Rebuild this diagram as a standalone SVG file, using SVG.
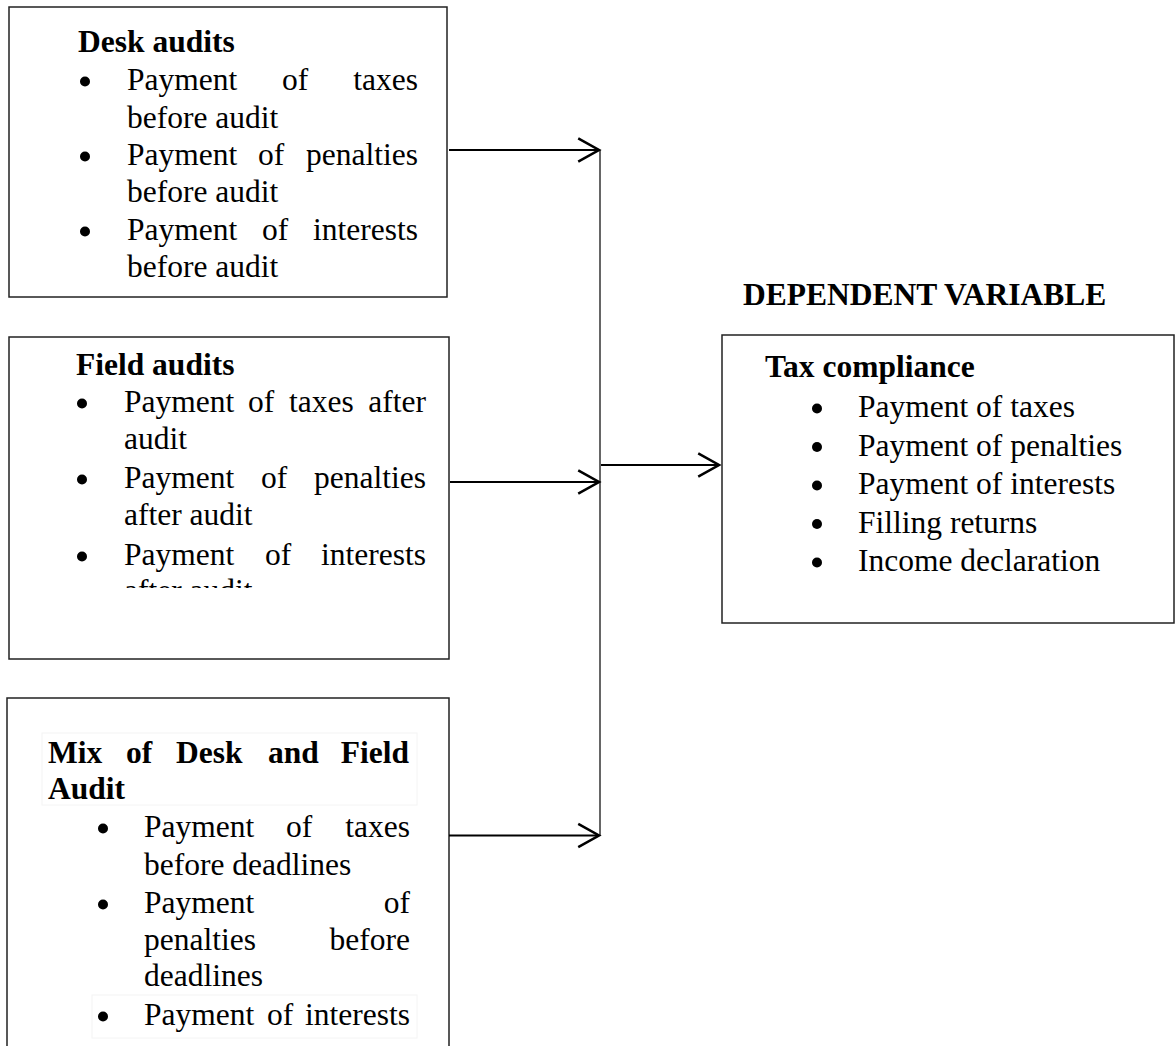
<svg xmlns="http://www.w3.org/2000/svg" width="1175" height="1046" viewBox="0 0 1175 1046">
<style>
.box{fill:#fff;stroke:#222;stroke-width:1.5}
.t{font-family:"Liberation Serif","Times New Roman",serif;font-size:31.5px;fill:#000}
.b{font-weight:bold}
.e{text-anchor:end}
.dot{fill:#000}
.conn{stroke:#000;stroke-width:2.2;fill:none}
.vline{stroke:#333;stroke-width:1.5;fill:none}
.faint{fill:none;stroke:#f4f4f4;stroke-width:1}
</style>
<defs>
<marker id="ah" markerUnits="userSpaceOnUse" markerWidth="30" markerHeight="30" viewBox="-22 -13 26 26" refX="0" refY="0" orient="auto">
<path d="M-18,-10 L0,0 L-18,10" fill="none" stroke="#000" stroke-width="2.2"/>
</marker>
<clipPath id="c2"><rect x="0" y="330" width="460" height="258"/></clipPath>
<clipPath id="c3"><rect x="0" y="690" width="460" height="348"/></clipPath>
</defs>
<rect width="1175" height="1046" fill="#fff"/>

<g id="desk-audits">
<rect class="box" x="9" y="7" width="438" height="290"/>
<text class="t b" x="78" y="52">Desk audits</text>
<circle class="dot" cx="85" cy="81.5" r="5"/>
<text class="t" x="127" y="90">Payment</text><text class="t" x="282" y="90">of</text><text class="t e" x="418" y="90">taxes</text>
<text class="t" x="127" y="127.5">before audit</text>
<circle class="dot" cx="85" cy="156.5" r="5"/>
<text class="t" x="127" y="165">Payment</text><text class="t" x="258" y="165">of</text><text class="t e" x="418" y="165">penalties</text>
<text class="t" x="127" y="202">before audit</text>
<circle class="dot" cx="85" cy="231.5" r="5"/>
<text class="t" x="127" y="240">Payment</text><text class="t" x="262" y="240">of</text><text class="t e" x="418" y="240">interests</text>
<text class="t" x="127" y="277">before audit</text>
</g>

<g id="field-audits">
<rect class="box" x="9" y="337" width="440" height="322"/>
<text class="t b" x="76" y="375">Field audits</text>
<circle class="dot" cx="82" cy="403.5" r="5"/>
<text class="t" x="124" y="412">Payment</text><text class="t" x="248" y="412">of</text><text class="t" x="289" y="412">taxes</text><text class="t e" x="426" y="412">after</text>
<text class="t" x="124" y="449">audit</text>
<circle class="dot" cx="82" cy="479.5" r="5"/>
<text class="t" x="124" y="488">Payment</text><text class="t" x="261" y="488">of</text><text class="t e" x="426" y="488">penalties</text>
<text class="t" x="124" y="525">after audit</text>
<circle class="dot" cx="82" cy="556.5" r="5"/>
<text class="t" x="124" y="565">Payment</text><text class="t" x="265" y="565">of</text><text class="t e" x="426" y="565">interests</text>
<text class="t" x="124" y="601" clip-path="url(#c2)">after audit</text>
</g>

<g id="mix-audit">
<path class="box" d="M7,1046 L7,698 L449,698 L449,1046"/>
<rect class="faint" x="42" y="733" width="375" height="72"/>
<rect class="faint" x="92" y="995" width="325" height="43"/>
<text class="t b" x="48" y="763">Mix</text><text class="t b" x="126" y="763">of</text><text class="t b" x="176" y="763">Desk</text><text class="t b" x="268" y="763">and</text><text class="t b e" x="409" y="763">Field</text>
<text class="t b" x="48" y="799">Audit</text>
<circle class="dot" cx="103" cy="828.5" r="5"/>
<text class="t" x="144" y="837">Payment</text><text class="t" x="286" y="837">of</text><text class="t e" x="410" y="837">taxes</text>
<text class="t" x="144" y="875">before deadlines</text>
<circle class="dot" cx="103" cy="904.5" r="5"/>
<text class="t" x="144" y="913">Payment</text><text class="t e" x="410" y="913">of</text>
<text class="t" x="144" y="950">penalties</text><text class="t e" x="410" y="950">before</text>
<text class="t" x="144" y="986">deadlines</text>
<circle class="dot" cx="103" cy="1016.5" r="5"/>
<text class="t" x="144" y="1025">Payment</text><text class="t" x="267" y="1025">of</text><text class="t e" x="410" y="1025">interests</text>
<text class="t" x="144" y="1062" clip-path="url(#c3)">before deadlines</text>
</g>

<g id="dependent-variable">
<text class="t b" x="743" y="305">DEPENDENT VARIABLE</text>
</g>

<g id="tax-compliance">
<rect class="box" x="722" y="335" width="452" height="288"/>
<text class="t b" x="765" y="377">Tax compliance</text>
<circle class="dot" cx="817" cy="408.5" r="5"/>
<text class="t" x="858" y="417">Payment of taxes</text>
<circle class="dot" cx="817" cy="447" r="5"/>
<text class="t" x="858" y="455.5">Payment of penalties</text>
<circle class="dot" cx="817" cy="485.5" r="5"/>
<text class="t" x="858" y="494">Payment of interests</text>
<circle class="dot" cx="817" cy="524" r="5"/>
<text class="t" x="858" y="532.5">Filling returns</text>
<circle class="dot" cx="817" cy="562.5" r="5"/>
<text class="t" x="858" y="571">Income declaration</text>
</g>

<g id="connectors">
<line class="vline" x1="600" y1="150" x2="600" y2="835"/>
<line class="conn" x1="449" y1="150" x2="599" y2="150" marker-end="url(#ah)"/>
<line class="conn" x1="450" y1="482" x2="599" y2="482" marker-end="url(#ah)"/>
<line class="conn" x1="449" y1="835.5" x2="599" y2="835.5" marker-end="url(#ah)"/>
<line class="conn" x1="601" y1="465" x2="719" y2="465" marker-end="url(#ah)"/>
</g>
</svg>
